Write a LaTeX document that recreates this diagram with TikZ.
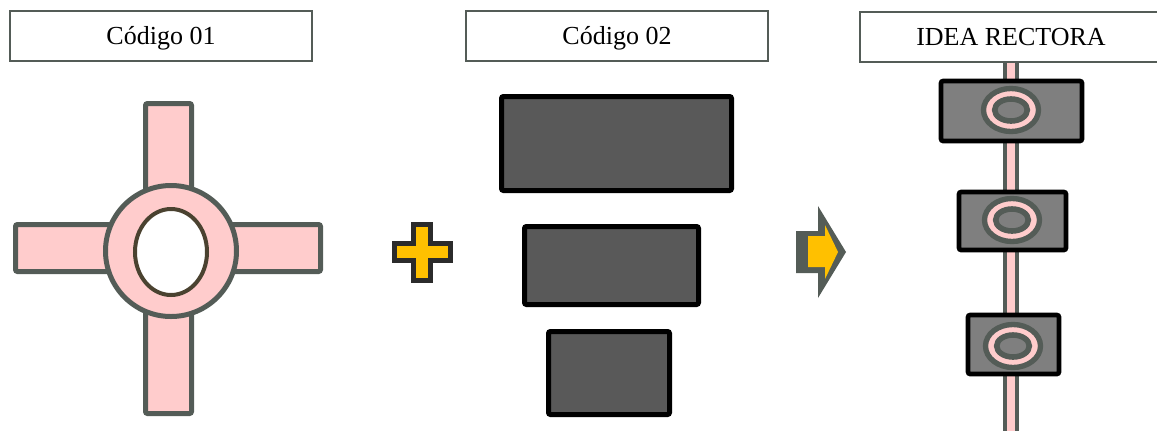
\documentclass[tikz,border=0pt]{standalone}
\usepackage{fontspec}
\setmainfont{Liberation Serif}
\definecolor{rosa}{HTML}{FFCCCC}
\definecolor{gris}{HTML}{545C57}
\definecolor{oscuro}{HTML}{595959}
\definecolor{medio}{HTML}{7F7F7F}
\definecolor{amarillo}{HTML}{FFC000}
\definecolor{borde}{HTML}{4A4230}
\definecolor{negro}{HTML}{2B2B2B}
\begin{document}
\begin{tikzpicture}[x=0.75pt, y=-0.75pt,
    rotulo/.style={draw=gris, line width=1.2pt, fill=white, minimum width=226.5pt,
      minimum height=37.5pt, text height=12.9pt, text depth=0pt,
      font=\fontsize{19.5}{23}\selectfont},
    brazo/.style={draw=gris, fill=rosa, line width=3.75pt, rounded corners=1.5pt},
    bloque/.style={draw=black, fill=oscuro, line width=3.75pt, rounded corners=1.5pt},
    caja/.style={draw=black, fill=medio, line width=3.4pt, rounded corners=1.5pt}]
  \useasboundingbox (0,0) rectangle (1157,430);
  \clip (0,0) rectangle (1157,430);

  % codigo 01
  \node[rotulo] (cod1) at (161,36) {Código 01};
  \draw[brazo] (15.5,224.5) rectangle (320.5,271.5);
  \draw[brazo] (145.5,103.5) rectangle (191.5,413.5);
  \draw[draw=gris, fill=rosa, line width=3.75pt] (171,251) circle [radius=65.5];
  \draw[draw=borde, fill=white, line width=3pt] (171,252) ellipse [x radius=36, y radius=43];

  % signo mas
  \draw[draw=negro, fill=amarillo, line width=3.75pt]
    (413.5,224) -- (430.5,224) -- (430.5,243.5) -- (450,243.5) -- (450,260.5)
    -- (430.5,260.5) -- (430.5,280) -- (413.5,280) -- (413.5,260.5) -- (394,260.5)
    -- (394,243.5) -- (413.5,243.5) -- cycle;

  % codigo 02
  \node[rotulo] (cod2) at (617,36) {Código 02};
  \draw[bloque] (501.5,96.5) rectangle (731.5,190.5);
  \draw[bloque] (524.5,226.5) rectangle (698.5,304.5);
  \draw[bloque] (548.5,331.5) rectangle (669.5,414.5);

  % flecha
  \fill[gris] (796,231) -- (818,231) -- (818,206) -- (846,252) -- (818,298)
    -- (818,273) -- (796,273) -- cycle;
  \fill[amarillo] (808,236) -- (825,236) -- (825,225) -- (838,252) -- (825,279)
    -- (825,267) -- (808,267) -- cycle;

  % idea rectora
  \node[rotulo] (idea) at (1011,37) {IDEA RECTORA};
  \coordinate (base) at (1011,432);
  \draw[gris, line width=12pt] (idea.south) -- (base);
  \draw[rosa, line width=6pt] (idea.south) -- (base);
  \draw[caja] (941,81) rectangle (1082,141);
  \draw[caja] (959,192) rectangle (1066,250);
  \draw[caja] (968,315) rectangle (1059,374);
  \foreach \cx/\cy in {1011/110, 1012/220, 1013/346} {
    \draw[draw=gris, fill=rosa, line width=4pt] (\cx,\cy) ellipse [x radius=27.5, y radius=21.5];
    \draw[draw=gris, fill=medio, line width=4.2pt] (\cx,\cy) ellipse [x radius=16.3, y radius=11];
  }
\end{tikzpicture}
\end{document}
